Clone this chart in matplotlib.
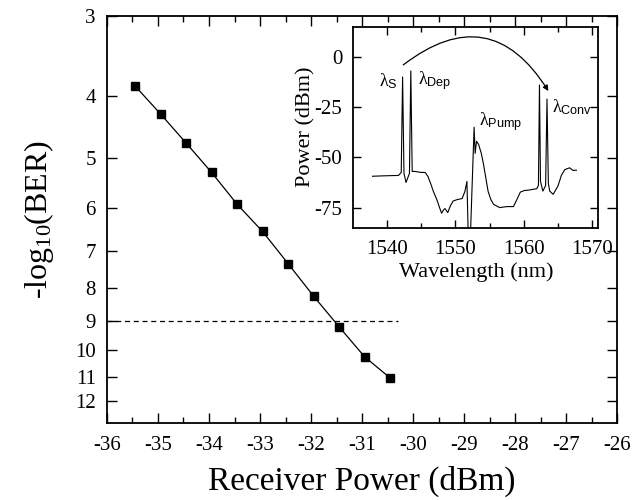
import matplotlib

matplotlib.use("Agg")
import matplotlib.pyplot as plt
from matplotlib.ticker import FixedLocator, FixedFormatter, MultipleLocator, NullLocator

plt.rcParams["font.family"] = ["Liberation Serif", "DejaVu Serif"]
plt.rcParams["mathtext.fontset"] = "custom"
plt.rcParams["mathtext.rm"] = "Liberation Serif"
plt.rcParams["mathtext.it"] = "Liberation Serif:italic"
plt.rcParams["mathtext.sf"] = "Liberation Sans"
plt.rcParams["axes.unicode_minus"] = False

# main BER curve
power_dbm = [-35.45, -34.95, -34.45, -33.95, -33.45, -32.95, -32.45, -31.95, -31.45, -30.95, -30.45]
neg_log_ber = [3.86, 4.27, 4.74, 5.27, 5.91, 6.52, 7.32, 8.23, 9.19, 10.24, 11.05]
ber_ticks = [3, 4, 5, 6, 7, 8, 9, 10, 11, 12]
ber_limit = 9

# inset optical spectrum
wavelength_nm = [
    1537.9, 1539.5, 1541.7, 1542.1, 1542.3, 1542.5, 1542.8, 1543.3, 1543.5, 1543.7,
    1544.1, 1545.0, 1545.6, 1546.0, 1546.4, 1546.8, 1547.3, 1547.7, 1548.0, 1548.3,
    1548.5, 1548.9, 1549.3, 1549.7, 1550.3, 1551.0, 1551.4, 1551.7, 1551.9, 1552.2,
    1552.4, 1552.6, 1552.75, 1552.9, 1553.1, 1553.4, 1553.8, 1554.1, 1554.5, 1554.8,
    1555.2, 1555.6, 1556.5, 1557.5, 1558.5, 1559.0, 1559.5, 1560.1, 1560.7, 1561.9,
    1562.15, 1562.3, 1562.45, 1562.8, 1563.2, 1563.4, 1563.6, 1563.8, 1564.3, 1565.0,
    1565.5, 1566.0, 1566.7, 1567.2, 1567.7,
]
spectrum_dbm = [
    -59.4, -59.2, -59.0, -57.5, -10.0, -58.0, -62.5, -58.0, -7.0, -57.0,
    -57.0, -57.5, -57.5, -59.5, -63.0, -67.0, -71.0, -75.0, -77.8, -76.0,
    -75.5, -77.5, -74.0, -71.7, -71.0, -70.5, -67.0, -62.0, -90.0, -90.0,
    -70.0, -50.0, -35.0, -48.0, -42.0, -43.5, -48.0, -53.0, -61.0, -67.0,
    -71.0, -73.4, -75.0, -74.5, -74.5, -71.0, -67.3, -66.5, -66.3, -65.6,
    -64.0, -14.0, -62.0, -66.8, -64.0, -21.0, -63.0, -66.8, -68.4, -64.3,
    -59.0, -56.1, -55.2, -56.5, -56.4,
]
peak_labels = [
    (r"λ$_{\mathsf{S}}$", 1538.8, -14.5),
    (r"λ$_{\mathsf{Dep}}$", 1544.6, -13.5),
    (r"λ$_{\mathsf{Pump}}$", 1553.4, -34.0),
    (r"λ$_{\mathsf{Conv}}$", 1564.2, -27.5),
]
arrow_start = (1542.4, -4.0)
arrow_end = (1563.6, -17.0)


def style_ticks(ax, size_major, size_minor, fontsize):
    ax.tick_params(which="both", direction="in", top=True, right=True,
                   width=1.0, labelsize=fontsize)
    ax.tick_params(which="major", length=size_major)
    ax.tick_params(which="minor", length=size_minor)
    for spine in ax.spines.values():
        spine.set_linewidth(1.3)


fig = plt.figure(figsize=(6.43, 5.0), dpi=100)

ax = fig.add_axes([0.1664, 0.154, 0.7932, 0.814])
ax.plot(power_dbm, neg_log_ber, color="black", linewidth=0.9,
        marker="s", markersize=6, markerfacecolor="black")
ax.plot([-36, -30.3], [ber_limit, ber_limit], color="black", linewidth=0.9,
        linestyle=(0, (4, 3)))
ax.set_yscale("log")
ax.set_ylim(13, 3)
ax.set_xlim(-36, -26)
ax.yaxis.set_major_locator(FixedLocator(ber_ticks))
ax.yaxis.set_major_formatter(FixedFormatter([str(t) for t in ber_ticks]))
ax.yaxis.set_minor_locator(NullLocator())
ax.xaxis.set_major_locator(MultipleLocator(1))
ax.xaxis.set_minor_locator(MultipleLocator(0.5))
style_ticks(ax, 7, 4, 15)
ax.tick_params(axis="x", pad=9)
ax.tick_params(axis="y", pad=8)
ax.set_xlabel("Receiver Power (dBm)", fontsize=24, labelpad=8)
ax.set_ylabel(r"-log$_{\mathrm{10}}$(BER)", fontsize=23, labelpad=14)

ins = fig.add_axes([0.5495, 0.5446, 0.381, 0.402])
ins.plot(wavelength_nm, spectrum_dbm, color="black", linewidth=0.8)
ins.set_xlim(1535.1, 1570.9)
ins.set_ylim(-85, 15)
ins.xaxis.set_major_locator(MultipleLocator(10))
ins.xaxis.set_minor_locator(MultipleLocator(5))
ins.yaxis.set_major_locator(FixedLocator([0, -25, -50, -75]))
ins.yaxis.set_minor_locator(NullLocator())
style_ticks(ins, 6, 3.5, 15)
ins.tick_params(axis="x", pad=9)
ins.tick_params(axis="y", pad=8)
ins.set_xlabel("Wavelength (nm)", fontsize=16, labelpad=2)
ins.set_ylabel("Power (dBm)", fontsize=16, labelpad=-1)

for label, x, y in peak_labels:
    ins.text(x, y, label, fontsize=13, ha="left", va="baseline")

ins.annotate("", xy=arrow_end, xytext=arrow_start,
             arrowprops=dict(arrowstyle="-|>", color="black", linewidth=0.9,
                             mutation_scale=8, shrinkA=0, shrinkB=0,
                             connectionstyle="arc3,rad=-0.55"))

fig.savefig("out.png", dpi=100)
